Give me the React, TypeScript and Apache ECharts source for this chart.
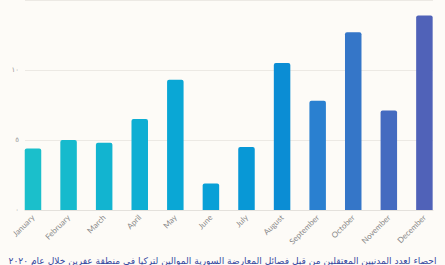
import React, { useEffect, useRef } from "react";
import * as echarts from "echarts";

const months = ["January","February","March","April","May","June","July","August","September","October","November","December"];
const detained = [4.4, 5.0, 4.8, 6.5, 9.3, 1.9, 4.5, 10.5, 7.8, 12.7, 7.1, 13.9];
const barColors = ["#1bbfcb","#16bacd","#12b4d0","#0eaed3","#0aa7d5","#08a0d7","#0898d6","#0b8dd4","#2a80d0","#3576c8","#446bc0","#5062b8"];
const yTicks = [0, 5, 10, 15];
const titleText = "احصاء لعدد المدنيين المعتقلين من قبل فصائل المعارضة السورية الموالين لتركيا في منطقة عفرين خلال عام ٢٠٢٠";

const arabicDigits = (n: number) => String(n).replace(/[0-9]/g, (d) => "٠١٢٣٤٥٦٧٨٩"[Number(d)]);

export default function App() {
  const ref = useRef<HTMLDivElement>(null);
  useEffect(() => {
    const chart = echarts.init(ref.current!, null, { renderer: "svg" });
    const yMax = yTicks[yTicks.length - 1];
    chart.setOption({
      animation: false,
      backgroundColor: "#fdfbf7",
      title: {
        text: titleText,
        left: "center",
        top: 251,
        textStyle: { fontSize: 9.1, fontWeight: "normal", color: "#3548a0", fontFamily: "DejaVu Sans" },
      },
      grid: [
        { left: 25, right: 12, top: -3, bottom: 55 },
        { left: 15.2, right: 2.8, top: -3, bottom: 55 },
      ],
      xAxis: [
        {
          type: "category", gridIndex: 0, data: months,
          axisLine: { show: true, lineStyle: { color: "#e4e1dc", width: 1 } },
          axisTick: { show: false }, axisLabel: { show: false },
        },
        {
          type: "category", gridIndex: 1, data: months,
          axisLine: { show: false }, axisTick: { show: false },
          axisLabel: { rotate: 45, fontSize: 8, color: "#888", margin: 6, fontFamily: "Lato", interval: 0 },
        },
      ],
      yAxis: [
        {
          type: "value", gridIndex: 0, min: 0, max: yMax, interval: 5,
          axisLine: { show: false }, axisTick: { show: false },
          splitLine: { show: true, lineStyle: { color: "#ece9e4", width: 1 } },
          axisLabel: {
            fontSize: 7, color: "#999", margin: 6, fontFamily: "DejaVu Sans",
            formatter: (v: number) => (v >= yMax ? "" : arabicDigits(v)),
          },
        },
        {
          type: "value", gridIndex: 1, min: 0, max: yMax, interval: 5,
          axisLine: { show: false }, axisTick: { show: false },
          splitLine: { show: false }, axisLabel: { show: false },
        },
      ],
      series: [
        {
          type: "bar", xAxisIndex: 1, yAxisIndex: 1, barWidth: 16.5,
          data: detained.map((v, i) => ({ value: v, itemStyle: { color: barColors[i], borderRadius: [2, 2, 0, 0] } })),
        },
      ],
    });
    return () => chart.dispose();
  }, []);
  return <div ref={ref} style={{ position: "absolute", left: 0, top: 0, width: 445, height: 265 }} />;
}
